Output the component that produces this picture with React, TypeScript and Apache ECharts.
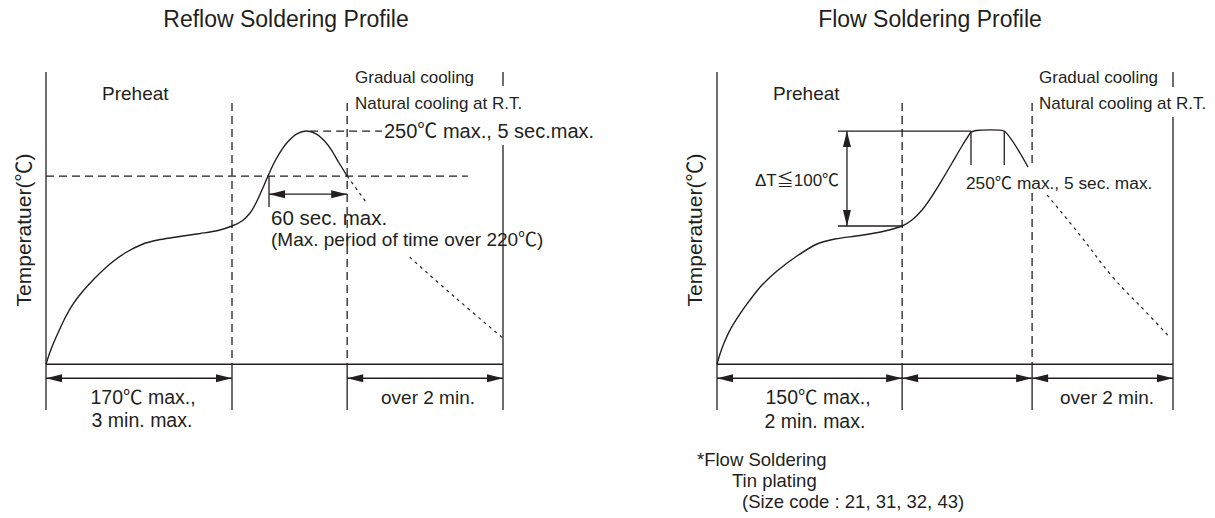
import React, { useEffect, useRef } from 'react';
import * as echarts from 'echarts';

const INK = '#231f20';
const FONT = '"Liberation Sans", Arial, "Noto Sans CJK JP", sans-serif';

// Relative time (0-100) vs relative temperature (0-100, baseline = 0)
const reflowCurve = [
  [0, 0], [0.88, 4.18], [1.75, 7.6], [2.63, 10.68], [4.16, 15.81], [5.91, 20.6], [8.1, 25.05],
  [10.72, 29.5], [14.0, 34.29], [17.29, 38.06], [21.23, 41.14], [24.51, 42.51], [27.79, 43.36],
  [33.7, 44.73], [37.64, 45.76], [40.7, 47.3], [42.89, 49.02], [44.64, 51.75], [45.95, 55.17],
  [47.26, 59.62], [48.58, 64.41], [50.0, 69.2], [51.53, 73.3], [53.06, 76.39], [54.81, 78.78],
  [57.0, 79.81], [59.19, 78.78], [60.94, 76.39], [62.47, 73.3], [64.0, 69.2], [65.9, 64.41],
];
const reflowCoolA = [[65.9, 64.41], [70.2, 55.1]];
const reflowCoolB = [[79.6, 36.6], [89.5, 22.9], [99.8, 9.2]];

const flowCurveRise = [
  [0, 0], [0.66, 3.49], [1.54, 7.26], [2.85, 11.7], [5.04, 17.2], [7.24, 22.0], [9.87, 27.1],
  [13.16, 31.9], [17.54, 37.03], [21.93, 41.14], [25.88, 42.85], [31.36, 44.05], [36.84, 45.59],
  [40.57, 47.3], [42.76, 49.35], [44.96, 52.77], [47.15, 57.56], [49.34, 63.04], [51.54, 68.86],
  [53.73, 74.68], [55.7, 79.48],
];
const flowCurvePeak = [[55.7, 79.48], [56.8, 80.0], [59.87, 80.18], [62.94, 79.81], [68.2, 67.5]];
const flowCool = [[72.4, 57.9], [79.6, 44.2], [86.8, 29.8], [94.3, 17.5], [99.3, 9.2]];

const BOT = -15.7;
// segments: [x1, y1, x2, y2]
const reflowSolid = [
  [0, BOT, 0, 100], [0, 0, 100, 0], [100, 100, 100, 95.2], [100, 75.0, 100, BOT],
  [40.7, 0, 40.7, BOT], [65.9, 0, 65.9, BOT], [48.8, 64.4, 48.8, 53.8],
];
const reflowDashed = [
  [40.7, 89.4, 40.7, 0], [65.9, 89.4, 65.9, 0], [0, 64.4, 92.3, 64.4], [57.8, 79.8, 73.5, 79.8],
];
const reflowArrows = [
  [48.8, 58.2, 65.9, 58.2], [0, -4.8, 40.7, -4.8], [65.9, -4.8, 100, -4.8],
];

const flowSolid = [
  [0, BOT, 0, 100], [0, 0, 100, 0], [100, 100, 100, 94.9], [100, 84.6, 100, BOT],
  [40.6, 0, 40.6, BOT], [69.1, 0, 69.1, BOT], [26.5, 79.8, 55.7, 79.8], [26.5, 47.3, 40.6, 47.3],
  [55.7, 79.8, 55.7, 68.2], [63.0, 79.8, 63.0, 68.2],
];
const flowDashed = [
  [40.6, 89.4, 40.6, 0], [69.1, 89.4, 69.1, 68.2], [69.1, 58.6, 69.1, 0],
];
const flowArrows = [
  [28.5, 47.3, 28.5, 79.8], [0, -4.8, 40.6, -4.8], [40.6, -4.8, 69.1, -4.8], [69.1, -4.8, 100, -4.8],
];

function segSeries(idx: number, data: number[][], dash: number[] | null, arrows: boolean) {
  return {
    type: 'custom',
    xAxisIndex: idx,
    yAxisIndex: idx,
    data,
    encode: { x: [0, 2], y: [1, 3] },
    silent: true,
    z: 2,
    renderItem: (_p: any, api: any) => {
      const a = api.coord([api.value(0), api.value(1)]);
      const b = api.coord([api.value(2), api.value(3)]);
      const children: any[] = [
        {
          type: 'line',
          shape: { x1: a[0], y1: a[1], x2: b[0], y2: b[1] },
          style: { stroke: INK, lineWidth: 1.3, lineDash: dash || undefined, fill: null },
        },
      ];
      if (arrows) {
        const dx = b[0] - a[0];
        const dy = b[1] - a[1];
        const len = Math.hypot(dx, dy) || 1;
        const ux = dx / len;
        const uy = dy / len;
        const px = -uy;
        const py = ux;
        const L = 16;
        const W = 4;
        const head = (tip: number[], dxu: number, dyu: number) => ({
          type: 'polygon',
          shape: {
            points: [
              [tip[0], tip[1]],
              [tip[0] - dxu * L + px * W, tip[1] - dyu * L + py * W],
              [tip[0] - dxu * L - px * W, tip[1] - dyu * L - py * W],
            ],
          },
          style: { fill: INK },
        });
        children.push(head(b, ux, uy));
        children.push(head(a, -ux, -uy));
      }
      return { type: 'group', children };
    },
  };
}

function curve(idx: number, data: number[][], dotted: boolean, smooth: number) {
  return {
    type: 'line',
    xAxisIndex: idx,
    yAxisIndex: idx,
    data,
    smooth,
    symbol: 'none',
    showSymbol: false,
    silent: true,
    z: 3,
    lineStyle: { color: INK, width: dotted ? 1.2 : 1.4, type: dotted ? [3, 4] : 'solid' },
  };
}

function txt(text: string, x: number, y: number, size: number, align = 'left', rotation = 0) {
  return {
    type: 'text',
    x,
    y,
    rotation,
    silent: true,
    z: 10,
    style: {
      text,
      fill: INK,
      fontSize: size,
      fontFamily: FONT,
      align,
      verticalAlign: 'middle',
    },
  };
}

export default function App() {
  const ref = useRef<HTMLDivElement>(null);
  useEffect(() => {
    const chart = echarts.init(ref.current!, null, { renderer: 'svg' });
    const axisX = (i: number) => ({ type: 'value', gridIndex: i, min: 0, max: 100, show: false });
    const axisY = (i: number) => ({ type: 'value', gridIndex: i, min: -16, max: 100, show: false });
    chart.setOption({
      animation: false,
      backgroundColor: '#ffffff',
      grid: [
        { left: 46, top: 72, width: 457, height: 339 },
        { left: 717, top: 72, width: 456, height: 339 },
      ],
      xAxis: [axisX(0), axisX(1)],
      yAxis: [axisY(0), axisY(1)],
      series: [
        curve(0, reflowCurve, false, 0.3),
        curve(0, reflowCoolA, true, 0),
        curve(0, reflowCoolB, true, 0.4),
        segSeries(0, reflowSolid, null, false),
        segSeries(0, reflowDashed, [8, 5], false),
        segSeries(0, reflowArrows, null, true),
        curve(1, flowCurveRise, false, 0.3),
        curve(1, flowCurvePeak, false, 0.2),
        curve(1, flowCool, true, 0.4),
        segSeries(1, flowSolid, null, false),
        segSeries(1, flowDashed, [8, 5], false),
        segSeries(1, flowArrows, null, true),
      ],
      graphic: [
        txt('Reflow Soldering Profile', 286, 19, 23, 'center'),
        txt('Flow Soldering Profile', 930, 19, 23, 'center'),
        txt('Temperatuer(℃)', 23, 230, 21, 'center', Math.PI / 2),
        txt('Temperatuer(℃)', 694, 230, 21, 'center', Math.PI / 2),
        txt('Preheat', 102, 93, 19),
        txt('Gradual cooling', 355, 77, 17),
        txt('Natural cooling at R.T.', 355, 103, 17),
        txt('250℃ max., 5 sec.max.', 384, 131, 20),
        txt('60 sec. max.', 271, 217, 20.5),
        txt('(Max. period of time over 220℃)', 271, 239, 19),
        txt('170℃ max.,', 143, 397, 19.5, 'center'),
        txt('3 min. max.', 142, 420, 19.5, 'center'),
        txt('over 2 min.', 428, 397, 19, 'center'),
        txt('Preheat', 773, 93, 19),
        txt('Gradual cooling', 1039, 77, 17),
        txt('Natural cooling at R.T.', 1039, 103, 17),
        txt('ΔT≦100℃', 755, 180, 17),
        txt('250℃ max., 5 sec. max.', 966, 183, 17.3),
        txt('150℃ max.,', 818, 397, 19.5, 'center'),
        txt('2 min. max.', 815, 421, 19.5, 'center'),
        txt('over 2 min.', 1107, 397, 19, 'center'),
        txt('*Flow Soldering', 697, 459, 18.5),
        txt('Tin plating', 732, 480, 18.5),
        txt('(Size code : 21, 31, 32, 43)', 742, 501, 18.5),
      ],
    });
    return () => chart.dispose();
  }, []);
  return (
    <div
      ref={ref}
      style={{ position: 'absolute', left: 0, top: 0, width: 1215, height: 518, background: '#fff' }}
    />
  );
}
